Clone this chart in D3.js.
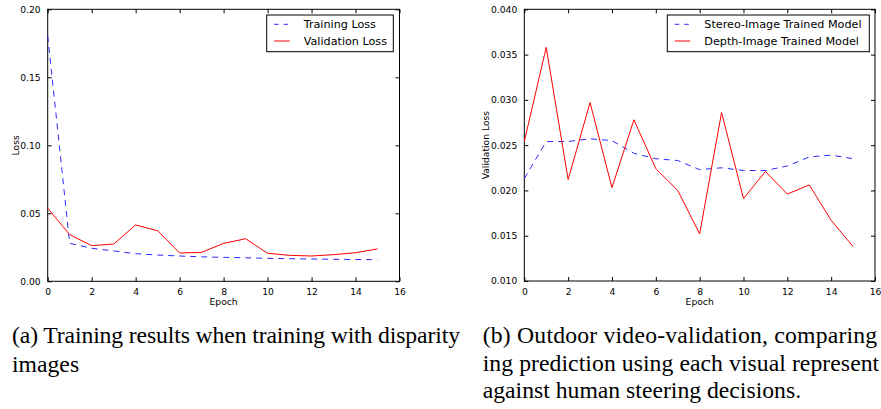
<!DOCTYPE html>
<html><head><meta charset="utf-8">
<script src="https://d3js.org/d3.v7.min.js"></script>
<style>html,body{margin:0;padding:0;background:#fff;overflow:hidden;}svg{display:block;}</style>
</head><body>
<script>
const epochs = d3.range(0, 16);
// Panel (a)
const trainingLoss = [0.1804, 0.0279, 0.0243, 0.0223, 0.0203, 0.0193, 0.0186, 0.0180, 0.0176, 0.0173, 0.0169, 0.0166, 0.0164, 0.0162, 0.0160, 0.0159];
const validationLoss = [0.0537, 0.0343, 0.0262, 0.0274, 0.0414, 0.0372, 0.0208, 0.0213, 0.0279, 0.0313, 0.0206, 0.0191, 0.0186, 0.0196, 0.0210, 0.0238];
const aYTicks = [0.00, 0.05, 0.10, 0.15, 0.20];
// Panel (b)
const stereoModel = [0.0213, 0.0254, 0.0254, 0.0257, 0.0255, 0.0241, 0.0235, 0.0233, 0.0223, 0.0225, 0.0222, 0.0222, 0.0227, 0.0237, 0.0239, 0.0235];
const depthModel = [0.0254, 0.0358, 0.0212, 0.0297, 0.0203, 0.0278, 0.0224, 0.0200, 0.0152, 0.0286, 0.0191, 0.0221, 0.0196, 0.0206, 0.0167, 0.0138];
const bYTicks = [0.010, 0.015, 0.020, 0.025, 0.030, 0.035, 0.040];
const xTicks = [0, 2, 4, 6, 8, 10, 12, 14, 16];

const captionA = ["(a) Training results when training with disparity", "images"];
const captionB = ["(b) Outdoor video-validation, comparing", "ing prediction using each visual represent", "against human steering decisions."];

const W = 881, H = 409;
const svg = d3.select("body").append("svg").attr("width", W).attr("height", H);
const sans = "DejaVu Sans";

function panel(cfg) {
  const x = d3.scaleLinear().domain([0, 16]).range([cfg.x0, cfg.x1]);
  const y = d3.scaleLinear().domain(cfg.yDomain).range([cfg.y0, cfg.y1]);
  const g = svg.append("g");
  g.append("rect").attr("x", cfg.x0).attr("y", cfg.y1)
    .attr("width", cfg.x1 - cfg.x0).attr("height", cfg.y0 - cfg.y1)
    .attr("fill", "none").attr("stroke", "#000").attr("stroke-width", 1);
  const ax = g.append("g").attr("transform", `translate(0,${cfg.y0})`)
    .call(d3.axisBottom(x).tickValues(xTicks).tickSizeInner(-4).tickSizeOuter(0).tickPadding(7).tickFormat(d3.format("d")));
  const axTop = g.append("g").attr("transform", `translate(0,${cfg.y1})`)
    .call(d3.axisTop(x).tickValues(xTicks).tickSizeInner(-4).tickSizeOuter(0).tickFormat(""));
  const ay = g.append("g").attr("transform", `translate(${cfg.x0},0)`)
    .call(d3.axisLeft(y).tickValues(cfg.yTicks).tickSizeInner(-4).tickSizeOuter(0).tickPadding(7).tickFormat(d3.format(cfg.yFmt)));
  const ayR = g.append("g").attr("transform", `translate(${cfg.x1},0)`)
    .call(d3.axisRight(y).tickValues(cfg.yTicks).tickSizeInner(-4).tickSizeOuter(0).tickFormat(""));
  [ax, axTop, ay, ayR].forEach(a => {
    a.select(".domain").remove();
    a.selectAll("line").attr("stroke", "#000");
    a.selectAll("text").attr("font-family", sans).attr("font-size", 9.2).attr("fill", "#000");
  });
  g.append("text").attr("x", (cfg.x0 + cfg.x1) / 2).attr("y", 305)
    .attr("text-anchor", "middle").attr("font-family", sans).attr("font-size", 9.2).text("Epoch");
  g.append("text").attr("transform", `translate(${cfg.yLabelX},${(cfg.y0 + cfg.y1) / 2}) rotate(-90)`)
    .attr("text-anchor", "middle").attr("font-family", sans).attr("font-size", 9.2).text(cfg.yLabel);
  const line = d3.line().x((d, i) => x(epochs[i])).y(d => y(d));
  g.append("path").datum(cfg.s1).attr("d", line).attr("fill", "none")
    .attr("stroke", "#2a2aff").attr("stroke-width", 1).attr("stroke-dasharray", "6,5");
  g.append("path").datum(cfg.s2).attr("d", line).attr("fill", "none")
    .attr("stroke", "#ff0000").attr("stroke-width", 1);
  const L = cfg.legend;
  g.append("rect").attr("x", L.x).attr("y", 15).attr("width", L.w).attr("height", 36.7)
    .attr("fill", "#fff").attr("stroke", "#000").attr("stroke-width", 1);
  const rows = [{name: cfg.n1, dash: "4.5,5", color: "#2a2aff", cy: 24.3},
                {name: cfg.n2, dash: null, color: "#ff0000", cy: 41}];
  rows.forEach(r => {
    g.append("line").attr("x1", L.x + 7.5).attr("x2", L.x + 23).attr("y1", r.cy).attr("y2", r.cy)
      .attr("stroke", r.color).attr("stroke-width", 1).attr("stroke-dasharray", r.dash);
    g.append("text").attr("x", L.x + 37).attr("y", r.cy + 4)
      .attr("font-family", sans).attr("font-size", 11.2).text(r.name);
  });
}

panel({x0: 47.7, x1: 399.5, y0: 281.3, y1: 9.3, yDomain: [0, 0.2], yTicks: aYTicks, yFmt: ".2f",
  yLabel: "Loss", yLabelX: 18.5, s1: trainingLoss, s2: validationLoss,
  n1: "Training Loss", n2: "Validation Loss", legend: {x: 266.7, w: 126.6}});
panel({x0: 524.3, x1: 875, y0: 281, y1: 9.3, yDomain: [0.010, 0.040], yTicks: bYTicks, yFmt: ".3f",
  yLabel: "Validation Loss", yLabelX: 488.5, s1: stereoModel, s2: depthModel,
  n1: "Stereo-Image Trained Model", n2: "Depth-Image Trained Model", legend: {x: 667.3, w: 202}});

// captions (justified lines get a fixed length like the typeset original)
const serif = "Liberation Serif";
const capA = [{len: 448}, {len: null}];
const capB = [{len: 394.5}, {len: 396.5}, {len: null}];
captionA.forEach((t, i) => {
  const el = svg.append("text").attr("x", 12).attr("y", 343.3 + i * 28.3)
    .attr("font-family", serif).attr("font-size", 23.7).attr("fill", "#000").text(t);
  if (capA[i].len) el.attr("textLength", capA[i].len).attr("lengthAdjust", "spacing");
});
captionB.forEach((t, i) => {
  const el = svg.append("text").attr("x", 482.7).attr("y", 343.3 + i * 27.4)
    .attr("font-family", serif).attr("font-size", 23.7).attr("fill", "#000").text(t);
  if (capB[i].len) el.attr("textLength", capB[i].len).attr("lengthAdjust", "spacing");
});
</script>
</body></html>
